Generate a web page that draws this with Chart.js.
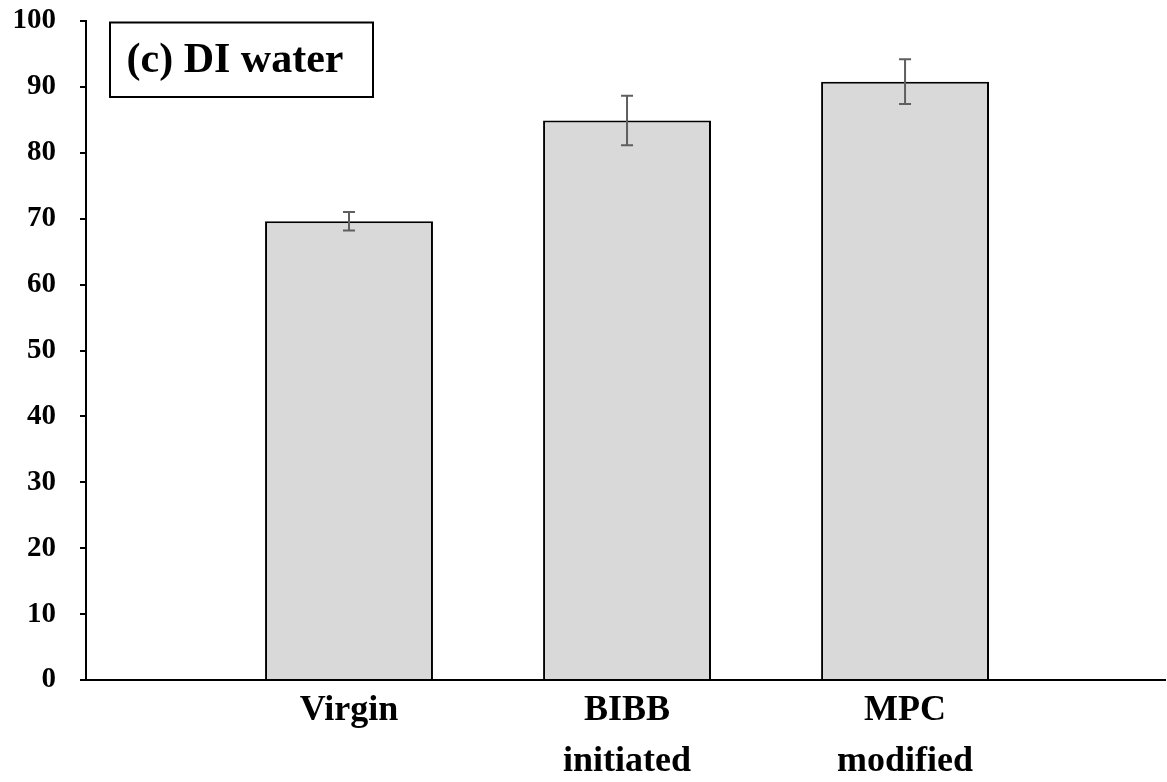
<!DOCTYPE html>
<html>
<head>
<meta charset="utf-8">
<script src="https://cdn.jsdelivr.net/npm/chart.js@4"></script>
<style>
  body { margin: 0; background: #fff; }
  #wrap { width: 1167px; height: 782px; }
</style>
</head>
<body>
<div id="wrap"><canvas id="waterChart"></canvas></div>
<script>
const categories = ["Virgin", ["BIBB", "initiated"], ["MPC", "modified"]];
const values = [69.6, 84.9, 90.8];
const errors = [1.4, 3.75, 3.4];
const yTicks = [0, 10, 20, 30, 40, 50, 60, 70, 80, 90, 100];
const panelLabel = "(c) DI water";

const serif = "'Liberation Serif', 'Times New Roman', serif";

// error bars drawn through the scales
const errorBars = {
  id: "errorBars",
  afterDatasetsDraw(chart) {
    const ctx = chart.ctx;
    const xs = chart.scales.x;
    const ys = chart.scales.y;
    ctx.save();
    ctx.strokeStyle = "#5f5f5f";
    ctx.lineWidth = 2;
    values.forEach((v, i) => {
      const x = xs.getPixelForValue(i + 1);
      const top = ys.getPixelForValue(v + errors[i]);
      const bot = ys.getPixelForValue(v - errors[i]);
      ctx.beginPath();
      ctx.moveTo(x, top);
      ctx.lineTo(x, bot);
      ctx.moveTo(x - 6, top);
      ctx.lineTo(x + 6, top);
      ctx.moveTo(x - 6, bot);
      ctx.lineTo(x + 6, bot);
      ctx.stroke();
    });
    ctx.restore();
  }
};

// boxed panel label in the top left corner
const panelBox = {
  id: "panelBox",
  afterDraw(chart) {
    const ctx = chart.ctx;
    ctx.save();
    ctx.fillStyle = "#fff";
    ctx.fillRect(110, 22.5, 263, 74.5);
    ctx.strokeStyle = "#000";
    ctx.lineWidth = 2;
    ctx.strokeRect(110, 22.5, 263, 74.5);
    ctx.fillStyle = "#000";
    ctx.font = "bold 42px " + serif;
    ctx.textAlign = "center";
    ctx.textBaseline = "middle";
    ctx.fillText(panelLabel, 235, 61);
    ctx.restore();
  }
};

let waterChart = new Chart("waterChart", {
  type: "bar",
  data: {
    datasets: [
      {
        data: values.map((v, i) => ({ x: i + 1, y: v })),
        backgroundColor: "#d9d9d9",
        borderColor: "#000",
        borderWidth: 2,
        borderSkipped: "bottom",
        categoryPercentage: 1,
        barPercentage: 0.604,
      },
    ],
  },
  options: {
    responsive: true,
    maintainAspectRatio: false,
    animation: false,
    layout: { padding: { top: 21, right: 2, left: 0, bottom: 0 } },
    plugins: {
      legend: { display: false },
      tooltip: { enabled: false },
    },
    scales: {
      x: {
        type: "linear",
        offset: false,
        min: 0.054,
        max: 3.935,
        grid: { display: false, drawTicks: false, offset: false },
        border: { display: true, color: "#000", width: 2 },
        afterBuildTicks(scale) {
          scale.ticks = categories.map((c, i) => ({ value: i + 1 }));
        },
        afterFit(scale) {
          scale.height = 102;
          scale.paddingTop = 0;
          scale.paddingBottom = 0;
        },
        ticks: {
          autoSkip: false,
          maxRotation: 0,
          padding: 6,
          color: "#000",
          font: { family: serif, size: 36, weight: "bold", lineHeight: 1.4 },
          callback: (value) => categories[value - 1],
        },
      },
      y: {
        min: 0,
        max: 100,
        afterBuildTicks(scale) {
          scale.ticks = yTicks.map((v) => ({ value: v }));
        },
        afterFit(scale) {
          scale.width = 86;
          scale.paddingTop = 0;
          scale.paddingBottom = 0;
        },
        grid: {
          display: true,
          drawOnChartArea: false,
          drawTicks: true,
          tickLength: 6,
          color: "#000",
          lineWidth: 2,
        },
        border: { display: true, color: "#000", width: 2 },
        ticks: {
          padding: 24,
          color: "#000",
          font: { family: serif, size: 29, weight: "bold" },
        },
      },
    },
  },
  plugins: [errorBars, panelBox],
});
</script>
</body>
</html>
